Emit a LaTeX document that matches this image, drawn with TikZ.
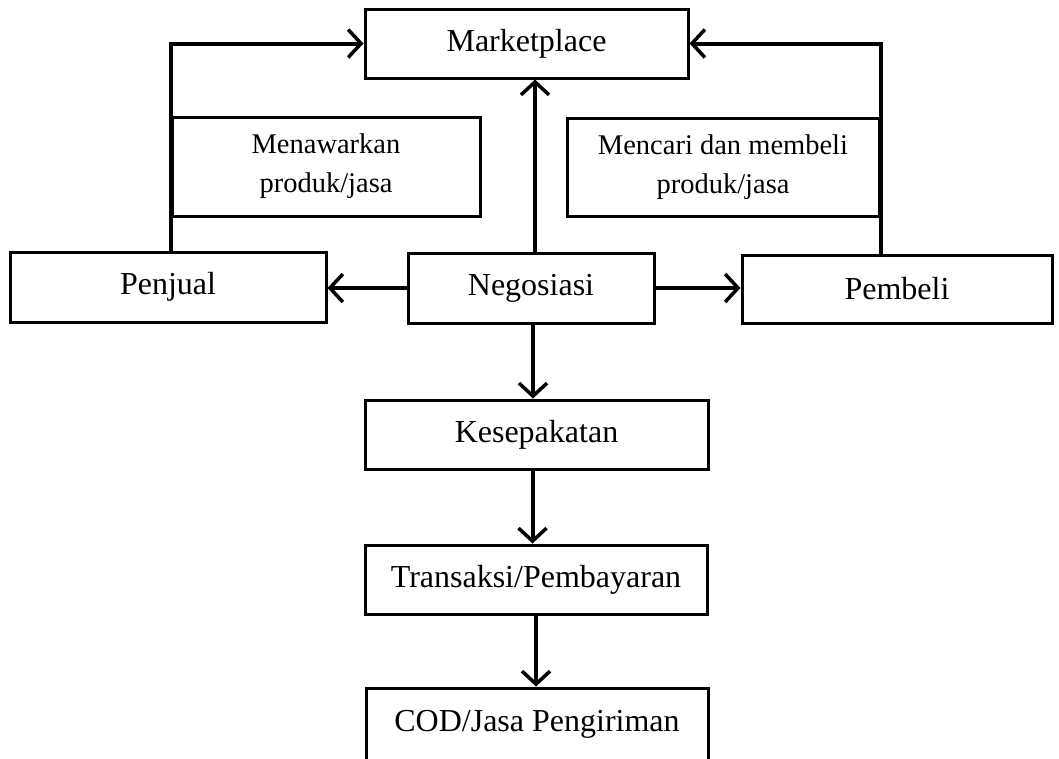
\documentclass[tikz,border=0pt]{standalone}
\usepackage{fontspec}
\setmainfont{Liberation Serif}
\usepackage{tikz}
\usetikzlibrary{arrows.meta}
\tikzset{
  block/.style={draw, line width=3pt, inner sep=0pt, font=\fontsize{32}{38}\selectfont},
  note/.style={block, align=center, font=\fontsize{28.5}{39}\selectfont},
  flow/.style={line width=4pt, -{Straight Barb[length=13pt,width=28pt,line width=3.5pt]}}
}

\begin{document}
\begin{tikzpicture}[x=1pt, y=-1pt]
		\useasboundingbox (0,0) rectangle (1059,758);
		\clip (0,0) rectangle (1059,758);
		% Define nodes
		\node[block, minimum width=323pt, minimum height=69pt] (market) at (526.5,43.5) {Marketplace};
		\node[note, minimum width=308pt, minimum height=99pt] (offer) at (326,166.5) {Menawarkan\\produk/jasa};
		\node[note, minimum width=312pt, minimum height=98pt] (search) at (723,167) {Mencari dan membeli\\produk/jasa};
		\node[block, minimum width=316pt, minimum height=70pt] (seller) at (168,287) {Penjual};
		\node[block, minimum width=246pt, minimum height=70pt] (nego) at (531,288) {Negosiasi};
		\node[block, minimum width=310pt, minimum height=68pt] (buyer) at (897,289) {Pembeli};
		\node[block, minimum width=343pt, minimum height=69pt] (deal) at (536.5,434.5) {Kesepakatan};
		\node[block, minimum width=342pt, minimum height=69pt] (pay) at (536,579.5) {Transaksi/Pembayaran};
		\node[block, minimum width=342pt, minimum height=72pt] (cod) at (537,724) {COD/Jasa Pengiriman};

		% Connect the nodes
		\draw[flow] (offer.west |- seller.north) |- (market.west);
		\draw[flow] (search.east |- buyer.north) |- (market.east);
		\draw[flow] ([xshift=4pt]nego.north) -- ([xshift=4pt]nego.north |- market.south);
		\draw[flow] (nego.west) -- (seller.east |- nego.west);
		\draw[flow] (nego.east) -- (buyer.west |- nego.east);
		\draw[flow] ([xshift=2pt]nego.south) -- ([xshift=2pt]nego.south |- deal.north);
		\draw[flow] ([xshift=-4pt]deal.south) -- ([xshift=-4pt]deal.south |- pay.north);
		\draw[flow] (pay.south) -- (pay.south |- cod.north);
	\end{tikzpicture}
\end{document}
